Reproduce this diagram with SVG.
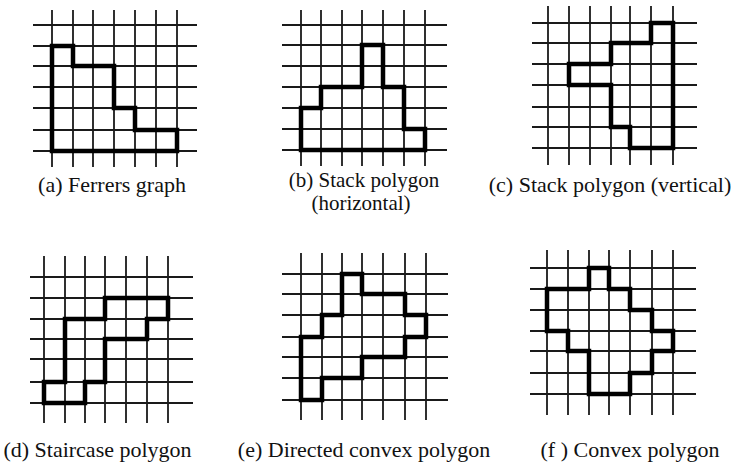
<svg xmlns="http://www.w3.org/2000/svg" width="734" height="469" viewBox="0 0 734 469">
<style>
.grid{fill:none;stroke:#1a1a1a;stroke-width:1.8}
.poly{fill:none;stroke:#000;stroke-width:4.5;stroke-linejoin:miter;stroke-linecap:square}
.lbl{font-family:"Liberation Serif","Times New Roman",serif;font-size:22px;fill:#111;text-anchor:middle}
.lbl2{font-size:21px}
</style>
<rect width="734" height="469" fill="#fff"/>
<g id="panel-a">
<path class="grid" d="M52,10V167M73,10V167M93,10V167M114,10V167M135,10V167M156,10V167M177,10V167M33,25H197M33,46H197M33,66H197M33,87H197M33,108H197M33,130H197M33,151H197"/>
<path class="poly" d="M52,46H73V66H114V108H135V130H177V151H52Z"/>
<text class="lbl" x="112" y="192">(a) Ferrers graph</text>
</g>
<g id="panel-b">
<path class="grid" d="M301,10V166M321,10V166M342,10V166M362,10V166M383,10V166M404,10V166M425,10V166M282,25H447M282,45H447M282,66H447M282,87H447M282,108H447M282,129H447M282,150H447"/>
<path class="poly" d="M301,108H321V87H362V45H383V87H404V129H425V150H301Z"/>
<text class="lbl lbl2" x="364" y="187">(b) Stack polygon</text>
<text class="lbl lbl2" x="361" y="210">(horizontal)</text>
</g>
<g id="panel-c">
<path class="grid" d="M548,6V165M569,6V165M590,6V165M611,6V165M630,6V165M651,6V165M673,6V165M532,23H697M532,43H697M532,64H697M532,85H697M532,107H697M532,127H697M532,148H697"/>
<path class="poly" d="M651,23H673V148H630V127H611V85H569V64H611V43H651Z"/>
<text class="lbl" x="610" y="192">(c) Stack polygon (vertical)</text>
</g>
<g id="panel-d">
<path class="grid" d="M44,256V423M65,256V423M85,256V423M105,256V423M126,256V423M147,256V423M168,256V423M30,277H193M30,298H193M30,319H193M30,339H193M30,359H193M30,382H193M30,403H193"/>
<path class="poly" d="M44,382H65V319H105V298H168V319H147V339H105V382H85V403H44Z"/>
<text class="lbl" x="97.5" y="457">(d) Staircase polygon</text>
</g>
<g id="panel-e">
<path class="grid" d="M301,253V420M322,253V420M342,253V420M362,253V420M383,253V420M405,253V420M426,253V420M282,274H448M282,294H448M282,315H448M282,337H448M282,357H448M282,378H448M282,400H448"/>
<path class="poly" d="M342,274H362V294H405V315H426V337H405V357H362V378H322V400H301V337H322V315H342Z"/>
<text class="lbl" x="364" y="457">(e) Directed convex polygon</text>
</g>
<g id="panel-f">
<path class="grid" d="M547,250V415M568,250V415M589,250V415M609,250V415M630,250V415M652,250V415M673,250V415M530,268H696M530,289H696M530,310H696M530,331H696M530,351H696M530,373H696M530,394H696"/>
<path class="poly" d="M589,268H609V289H630V310H652V331H673V351H652V373H630V394H589V351H568V331H547V289H589Z"/>
<text class="lbl" x="630" y="457">(f ) Convex polygon</text>
</g>
<g id="connectors"/>
</svg>
